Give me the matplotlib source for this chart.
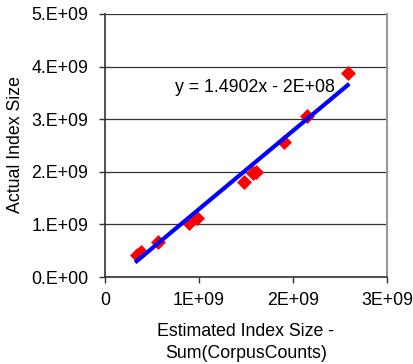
import matplotlib
matplotlib.use("Agg")
import matplotlib.pyplot as plt
import numpy as np
from matplotlib.ticker import FixedLocator

plt.rcParams['font.family'] = ['Liberation Sans', 'DejaVu Sans']

est = [0.337e9, 0.379e9, 0.567e9, 0.894e9, 0.982e9, 1.479e9, 1.578e9, 1.606e9, 1.904e9, 2.152e9, 2.582e9]
actual = [0.418e9, 0.481e9, 0.671e9, 1.02e9, 1.116e9, 1.81e9, 1.97e9, 2.0e9, 2.57e9, 3.06e9, 3.87e9]
slope = 1.4902
intercept = -2e8
x_ticks = [0, 1e9, 2e9, 3e9]
x_labels = ["0", "1E+09", "2E+09", "3E+09"]
y_ticks = [0, 1e9, 2e9, 3e9, 4e9, 5e9]
y_labels = ["0.E+00", "1.E+09", "2.E+09", "3.E+09", "4.E+09", "5.E+09"]

FS = 12.8
fig = plt.figure(figsize=(4.14, 3.64), dpi=100)
ax = fig.add_axes([105/414, 1-277/364, (387-105)/414, (277-14)/364])

xs = np.array([min(est), max(est)])
ax.plot(xs, slope*xs + intercept, color='#0000ff', lw=3.0, zorder=3)
ax.scatter(est, actual, marker='D', s=58, color='#ff0000', zorder=2, linewidths=0)

ax.set_xlim(0, 3e9)
ax.set_ylim(0, 5e9)
ax.xaxis.set_major_locator(FixedLocator(x_ticks))
ax.set_xticklabels(x_labels)
ax.yaxis.set_major_locator(FixedLocator(y_ticks))
ax.set_yticklabels(y_labels)
ax.tick_params(labelsize=FS, length=4, width=1, color='#333333', direction='out')
ax.tick_params(axis='x', pad=7)
ax.tick_params(axis='y', pad=8)
ax.yaxis.grid(True, color='#333333', lw=0.9)
ax.set_axisbelow(True)
for s in ['left', 'bottom']:
    ax.spines[s].set_color('#333333')
    ax.spines[s].set_linewidth(1.2)
ax.spines['top'].set_visible(False)
ax.spines['right'].set_color('#999999')
ax.spines['right'].set_linewidth(1.5)

fig.text(255/414, 1-87/364, "y = 1.4902x - 2E+08", ha='center', va='center', fontsize=FS)

fig.text(16/414, 1-145/364, "Actual Index Size", rotation=90, ha='center', va='center', fontsize=FS)
fig.text(246/414, 1-332/364, "Estimated Index Size -", ha='center', va='center', fontsize=FS)
fig.text(246/414, 1-353/364, "Sum(CorpusCounts)", ha='center', va='center', fontsize=FS)

fig.savefig("out.png", dpi=100)
